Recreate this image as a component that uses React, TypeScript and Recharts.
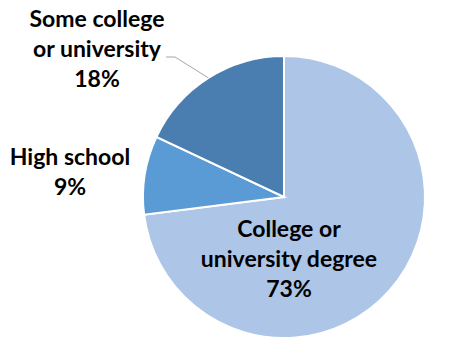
import { PieChart, Pie, Cell } from "recharts";

const categories = ["College or university degree", "High school", "Some college or university"];
const shares = [73, 9, 18];
const labelLines = [
  ["College or", "university degree", "73%"],
  ["High school", "9%"],
  ["Some college", "or university", "18%"],
];

const COLORS = ["#adc5e7", "#5b9bd5", "#4a7eb1"];

// label anchor offsets from the pie centre (x centre, first baseline)
const LABEL_OFFSETS = [
  { dx: 5, dy: 40 },
  { dx: -214, dy: -32 },
  { dx: -187, dy: -170 },
];
const LINE_GAP = 30;

const data = categories.map((name, i) => ({ name, value: shares[i] }));

function renderLabel(props: any) {
  const { cx, cy, midAngle, outerRadius, index } = props;
  const off = LABEL_OFFSETS[index];
  const x = cx + off.dx;
  const y = cy + off.dy;
  const RAD = Math.PI / 180;
  let leader = null;
  if (index === 2) {
    const ex = cx + outerRadius * Math.cos(-midAngle * RAD);
    const ey = cy + outerRadius * Math.sin(-midAngle * RAD);
    const ly = y + LINE_GAP;
    leader = (
      <polyline
        points={`${ex},${ey} ${x + 78},${ly} ${x + 69},${ly}`}
        fill="none"
        stroke="#a6a6a6"
        strokeWidth={1}
      />
    );
  }
  return (
    <g key={`lbl-${index}`}>
      {leader}
      <text
        x={x}
        y={y}
        textAnchor="middle"
        fill="#000"
        fontFamily="Lato, 'Open Sans', sans-serif"
        fontWeight="bold"
        fontSize={23}
      >
        {labelLines[index].map((line, j) => (
          <tspan key={j} x={x} dy={j === 0 ? 0 : LINE_GAP}>
            {line}
          </tspan>
        ))}
      </text>
    </g>
  );
}

export default function App() {
  return (
    <div style={{ position: "absolute", left: 0, top: 0, width: 467, height: 362, background: "#fff" }}>
      <PieChart width={467} height={362} margin={{ top: 0, right: 0, bottom: 0, left: 0 }}>
        <Pie
          data={data}
          dataKey="value"
          nameKey="name"
          cx={284}
          cy={197}
          outerRadius={141}
          startAngle={90}
          endAngle={-270}
          stroke="#fff"
          strokeWidth={2}
          label={renderLabel}
          labelLine={false}
          isAnimationActive={false}
        >
          {data.map((d, i) => (
            <Cell key={d.name} fill={COLORS[i]} />
          ))}
        </Pie>
      </PieChart>
    </div>
  );
}
